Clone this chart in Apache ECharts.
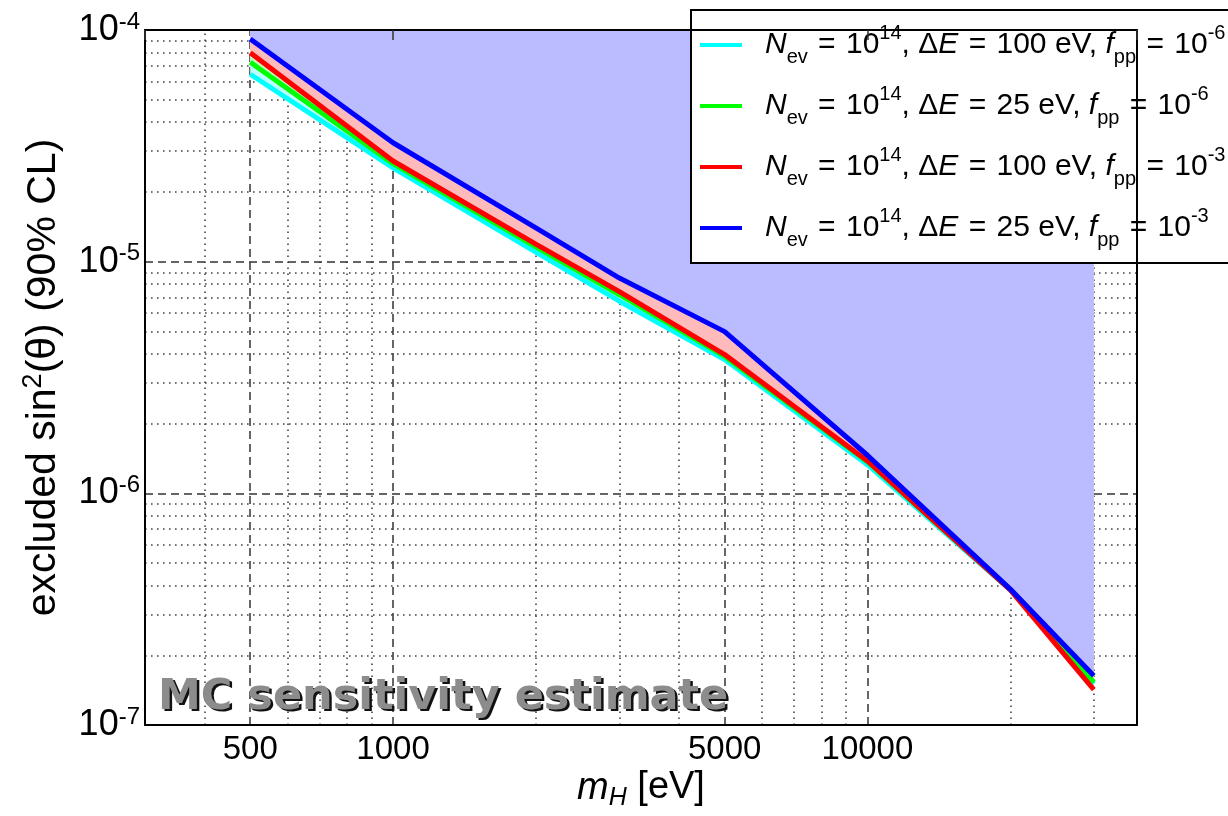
<!DOCTYPE html>
<html><head><meta charset="utf-8">
<script src="https://cdn.jsdelivr.net/npm/echarts@6/dist/echarts.min.js"></script>
<style>html,body{margin:0;padding:0;background:#fff}#chart{width:1228px;height:816px}</style>
</head><body><div id="chart"></div>
<script>
// ---- data ----
const massEV = [500, 1000, 2000, 3000, 5000, 10000, 20000, 30000];
const sensCyan  = [6.44e-5, 2.54e-5, 1.10e-5, 6.75e-6, 3.78e-6, 1.33e-6, 3.83e-7, 1.50e-7];
const sensGreen = [7.26e-5, 2.65e-5, 1.16e-5, 7.20e-6, 3.90e-6, 1.37e-6, 3.85e-7, 1.53e-7];
const sensRed   = [7.98e-5, 2.72e-5, 1.19e-5, 7.43e-6, 3.97e-6, 1.38e-6, 3.83e-7, 1.42e-7];
const sensBlue  = [9.15e-5, 3.26e-5, 1.40e-5, 8.50e-6, 4.99e-6, 1.46e-6, 3.86e-7, 1.63e-7];

const seriesNames = [
  'Nev=1e14, dE=100 eV, fpp=1e-6',
  'Nev=1e14, dE=25 eV, fpp=1e-6',
  'Nev=1e14, dE=100 eV, fpp=1e-3',
  'Nev=1e14, dE=25 eV, fpp=1e-3'
];
const legendLabels = [
  '{i|N}{sub|ev} {eq|=} 10{sup|14}, Δ{i|E} {eq|=} 100 eV, {i|f}{sub|pp} {eq|=} 10{sup|-6}',
  '{i|N}{sub|ev} {eq|=} 10{sup|14}, Δ{i|E} {eq|=} 25 eV, {i|f}{sub|pp} {eq|=} 10{sup|-6}',
  '{i|N}{sub|ev} {eq|=} 10{sup|14}, Δ{i|E} {eq|=} 100 eV, {i|f}{sub|pp} {eq|=} 10{sup|-3}',
  '{i|N}{sub|ev} {eq|=} 10{sup|14}, Δ{i|E} {eq|=} 25 eV, {i|f}{sub|pp} {eq|=} 10{sup|-3}'
];
const lineColors = ['#00ffff', '#00ff00', '#ff0000', '#0000ff'];
const fillColors = ['#bbffff', '#bbffbb', '#ffbbbb', '#bbbbff'];

const xMajorTicks = [500, 1000, 5000, 10000];
const xTickLabels = ['500', '1000', '5000', '10000'];
const xMinorTicks = [400, 600, 700, 800, 900, 2000, 3000, 4000, 6000, 7000, 8000, 9000, 20000, 30000];
const yMajorTicks = [1e-5, 1e-6];
const yMinorTicks = [2e-7, 3e-7, 4e-7, 5e-7, 6e-7, 7e-7, 8e-7, 9e-7,
                     2e-6, 3e-6, 4e-6, 5e-6, 6e-6, 7e-6, 8e-6, 9e-6,
                     2e-5, 3e-5, 4e-5, 5e-5, 6e-5, 7e-5, 8e-5, 9e-5];
const xMin = 300, xMax = 37000, yMin = 1e-7, yMax = 1e-4;
const watermark = 'MC sensitivity estimate';

const FONT = 'Liberation Sans';
const allSens = [sensCyan, sensGreen, sensRed, sensBlue];
const pairs = arr => massEV.map((m, i) => [m, arr[i]]);

const dashed = {color: '#333', width: 1.5, type: [8, 5]};
const dotted = {color: '#444', width: 1.6, type: [1.6, 4.4]};

const hLine = (v, style) => [{coord: [xMin, v], lineStyle: style}, {coord: [xMax, v]}];

const gridMarks = {
  type: 'line', name: '_grid', data: [], z: 1, silent: true,
  markLine: {
    z: 1, silent: true, symbol: 'none', animation: false,
    label: {show: false},
    data: [].concat(
      xMinorTicks.map(v => ({xAxis: v, lineStyle: dotted})),
      yMinorTicks.map(v => hLine(v, dotted)),
      yMajorTicks.map(v => hLine(v, dashed)),
      xMajorTicks.map((v, i) => ({
        xAxis: v, lineStyle: dashed,
        label: {show: true, position: 'start', distance: 8, formatter: xTickLabels[i],
                fontSize: 33, fontFamily: FONT, color: '#000'}
      }))
    )
  }
};

const fillSeries = allSens.map((arr, k) => ({
  type: 'line', name: '_fill' + k, data: pairs(arr), symbol: 'none', z: 2,
  lineStyle: {width: 0}, silent: true,
  areaStyle: {color: fillColors[k], opacity: 1, origin: 'end'}
}));
const lineSeries = allSens.map((arr, k) => ({
  type: 'line', name: seriesNames[k], data: pairs(arr), symbol: 'none', z: 3,
  lineStyle: {color: lineColors[k], width: 5}, itemStyle: {color: lineColors[k]}
}));

const frameAxis = {
  type: 'log', logBase: 10, splitLine: {show: false}, axisTick: {show: false},
  axisLabel: {show: false}, axisLine: {show: true, lineStyle: {color: '#000', width: 2}}, z: 10
};

const chart = echarts.init(document.getElementById('chart'), null, {renderer: 'canvas'});
chart.setOption({
  animation: false,
  backgroundColor: '#fff',
  grid: {left: 145, right: 91, top: 30, bottom: 90, containLabel: false},
  graphic: [
    {type: 'text', x: 160.5, y: 700, z: 50, silent: true,
     style: {text: watermark, font: 'bold 43px "DejaVu Sans"', fill: '#111', verticalAlign: 'middle'}},
    {type: 'text', x: 158, y: 697.5, z: 51, silent: true,
     style: {text: watermark, font: 'bold 43px "DejaVu Sans"', fill: '#8c8c8c', verticalAlign: 'middle'}}
  ],
  legend: {
    orient: 'vertical', left: 691, top: 10,
    data: seriesNames,
    icon: 'rect', itemWidth: 42, itemHeight: 4, itemGap: 17,
    padding: [13, 20, 13, 9],
    backgroundColor: '#fff', borderColor: '#000', borderWidth: 2, borderRadius: 0,
    formatter: name => legendLabels[seriesNames.indexOf(name)],
    textStyle: {
      fontFamily: FONT, fontSize: 30, lineHeight: 44, color: '#000', padding: [0, 0, 0, 18],
      rich: {
        i: {fontFamily: FONT, fontSize: 30, lineHeight: 44, fontStyle: 'italic', color: '#000'},
        eq: {fontFamily: FONT, fontSize: 30, lineHeight: 44, color: '#000', padding: [0, 2, 0, 2]},
        sup: {fontFamily: FONT, fontSize: 20, lineHeight: 17, verticalAlign: 'top', color: '#000'},
        sub: {fontFamily: FONT, fontSize: 20, lineHeight: 12, verticalAlign: 'bottom', color: '#000'}
      }
    }
  },
  xAxis: [
    Object.assign({}, frameAxis, {
      position: 'bottom', min: xMin, max: xMax,
      name: '{i|m}{sub|H} [eV]', nameLocation: 'middle', nameGap: 40,
      nameTextStyle: {fontFamily: FONT, fontSize: 38, lineHeight: 46, color: '#000',
        rich: {
          i: {fontFamily: FONT, fontSize: 38, lineHeight: 46, fontStyle: 'italic', color: '#000'},
          sub: {fontFamily: FONT, fontSize: 25, lineHeight: 14, fontStyle: 'italic', verticalAlign: 'bottom', color: '#000'}
        }}
    }),
    Object.assign({}, frameAxis, {
      position: 'top', min: xMin, max: xMax,
      axisTick: {show: true, inside: true, length: 10, lineStyle: {color: '#333', width: 1.5}}
    })
  ],
  yAxis: [
    Object.assign({}, frameAxis, {
      position: 'left', min: yMin, max: yMax,
      axisLabel: {
        show: true, margin: 5,
        formatter: v => '{b|10}{s|' + Math.round(Math.log10(v)) + '}',
        rich: {
          b: {fontFamily: FONT, fontSize: 36, lineHeight: 40, color: '#000'},
          s: {fontFamily: FONT, fontSize: 24, lineHeight: 18, verticalAlign: 'top', color: '#000'}
        }
      },
      name: 'excluded sin{s|2}(θ) (90% CL)', nameLocation: 'middle', nameGap: 74, nameRotate: 90,
      nameTextStyle: {fontFamily: FONT, fontSize: 41, lineHeight: 48, color: '#000',
        rich: {s: {fontFamily: FONT, fontSize: 27, lineHeight: 20, verticalAlign: 'top', color: '#000'}}}
    }),
    Object.assign({}, frameAxis, {position: 'right', min: yMin, max: yMax})
  ],
  series: [gridMarks].concat(fillSeries, lineSeries)
});
</script></body></html>
